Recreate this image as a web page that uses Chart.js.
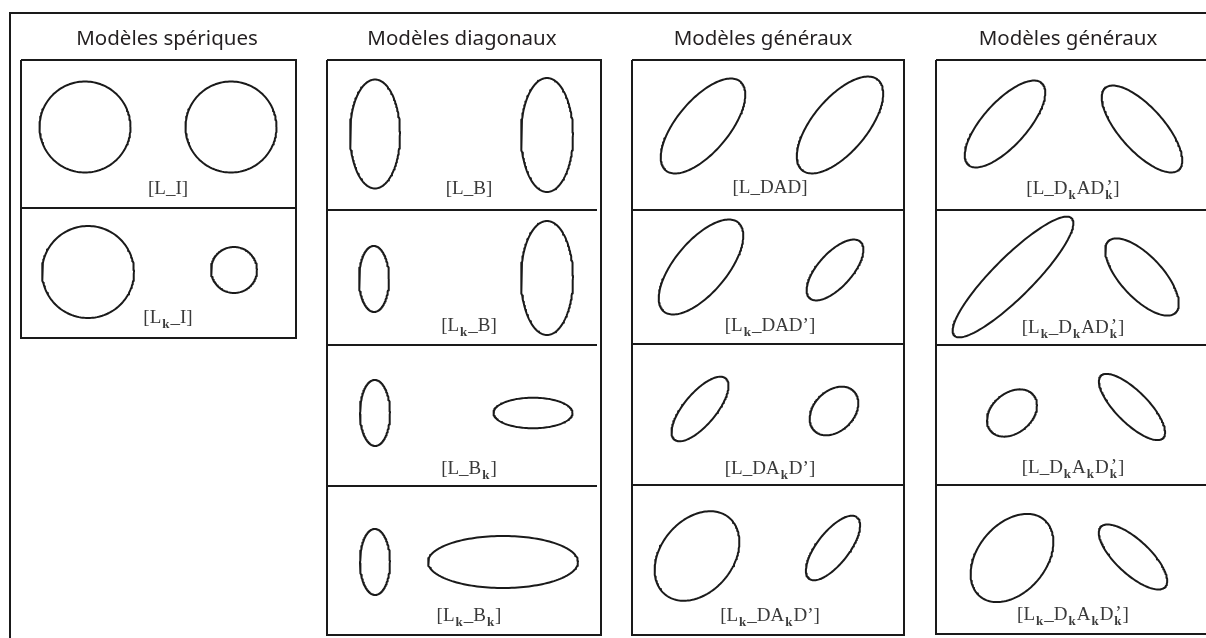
<!DOCTYPE html>
<html>
<head>
<meta charset="utf-8">
<script src="https://cdn.jsdelivr.net/npm/chart.js"></script>
<style>
  html, body { margin: 0; padding: 0; background: #fff; }
  canvas { display: block; }
</style>
</head>
<body>
<canvas id="diagram" width="1206" height="638"></canvas>
<script>
// --- Data: column titles and panel labels ---
const columnTitles = ['Modèles spériques', 'Modèles diagonaux', 'Modèles généraux', 'Modèles généraux'];

// {k} = subscript, ^x = prime stacked above the previous subscript
const sphericalLabels = ['[L_I]', '[L{k}_I]'];
const diagonalLabels = ['[L_B]', '[L{k}_B]', '[L_B{k}]', '[L{k}_B{k}]'];
const generalLabels = ['[L_DAD]', '[L{k}_DAD\u2019]', '[L_DA{k}D\u2019]', '[L{k}_DA{k}D\u2019]'];
const generalLabelsK = ['[L_D{k}AD{k}^\u2019]', '[L{k}_D{k}AD{k}^\u2019]', '[L_D{k}A{k}D{k}^\u2019]', '[L{k}_D{k}A{k}D{k}^\u2019]'];

// ellipses per panel: [cx, cy, semi-axis a, semi-axis b, angle in degrees]
const sphericalShapes = [
    [[85, 127, 45.5, 45.5, 0], [231, 127, 45.5, 45.5, 0]],
    [[88, 272, 46, 46, 0], [234, 270, 23, 23, 0]],
];
const diagonalShapes = [
    [[375, 134, 25, 54.5, 0], [547, 135, 26, 57, 0]],
    [[374, 279, 15, 33, 0], [547, 278, 26, 57, 0]],
    [[375, 413, 15, 33, 0], [533, 413, 39.5, 15.3, 0]],
    [[375, 562, 15, 33, 0], [503, 562, 75, 26, 0]],
];
const generalShapes = [
    [[703, 126, 58, 26, 50], [840, 125, 59, 27, 50]],
    [[701, 267, 58, 26, 50], [835, 270, 38, 17, 48]],
    [[700, 409, 40, 16, 50], [834, 411, 28, 20, 45]],
    [[697, 556, 50, 36, 50], [833, 548, 39, 16, 52]],
];
const generalShapesK = [
    [[1005, 124, 55, 22, 48], [1142, 129, 55, 22, -48]],
    [[1013, 277, 83, 20, 45], [1142, 277, 49, 21, -47]],
    [[1012, 413, 28, 20, 40], [1132, 407, 44, 16, -45]],
    [[1012, 558, 50, 34, 50], [1133, 557, 44, 17, -43]],
];

// --- Layout ---
const W = 1206, H = 638;
const frame = { left: 10, top: 13 };
const titleX = [167, 462, 763, 1068];
const titleBaseline = 45;
const colLeft = [21, 327, 632, 936];
const colRight = [296, 601, 904, 1240];
const colRows = [
    [60, 208, 338],
    [60, 210, 345, 486, 635],
    [60, 210, 344, 485, 635],
    [60, 210, 345, 485, 634],
];
const labelX = [168, 469, 770, 1073];
const labelBaselines = [
    [194, 323],
    [194, 331, 474, 621],
    [193, 331, 474, 621],
    [194, 333, 473, 620],
];

const allLabels = [sphericalLabels, diagonalLabels, generalLabels, generalLabelsK];
const allShapes = [sphericalShapes, diagonalShapes, generalShapes, generalShapesK];

const LINE = '#1a1a1a';

// --- Datasets ---
function lineSet(points) {
    return {
        data: points.map(([x, y]) => ({ x, y })),
        showLine: true,
        borderColor: LINE,
        borderWidth: 2,
        pointRadius: 0,
        tension: 0,
        clip: false,
        borderJoinStyle: 'miter',
    };
}

function ellipseSet([cx, cy, a, b, deg]) {
    const th = deg * Math.PI / 180;
    const pts = [];
    for (let i = 0; i <= 160; i++) {
        const t = i / 160 * Math.PI * 2;
        pts.push([
            cx + a * Math.cos(t) * Math.cos(th) - b * Math.sin(t) * Math.sin(th),
            cy - (a * Math.cos(t) * Math.sin(th) + b * Math.sin(t) * Math.cos(th)),
        ]);
    }
    const ds = lineSet(pts);
    ds.borderJoinStyle = 'round';
    return ds;
}

const datasets = [];
// outer frame
datasets.push(lineSet([[W + 5, frame.top], [frame.left, frame.top], [frame.left, H + 5]]));

colRows.forEach((rows, c) => {
    const l = colLeft[c], r = colRight[c];
    const top = rows[0], bottom = rows[rows.length - 1];
    datasets.push(lineSet([[l, top], [r, top], [r, bottom], [l, bottom], [l, top]]));
    rows.slice(1, -1).forEach(yy => {
        datasets.push(lineSet([[l, yy], [c === 1 ? r - 4 : r, yy]]));
    });
    allShapes[c].forEach(panel => panel.forEach(e => datasets.push(ellipseSet(e))));
});

// --- Text (titles + labels with subscripts) ---
function parseLabel(str) {
    const runs = [];
    const re = /\{(.*?)\}|\^(.)|([^{^]+)/g;
    let m;
    while ((m = re.exec(str)) !== null) {
        if (m[1] !== undefined) runs.push({ text: m[1], kind: 'sub' });
        else if (m[2] !== undefined) runs.push({ text: m[2], kind: 'sup' });
        else runs.push({ text: m[3], kind: 'normal' });
    }
    return runs;
}

const FONT_MAIN = '19px "Liberation Serif"';
const FONT_SUB = 'bold 13px "Liberation Serif"';

function drawLabel(ctx, str, cx, baseline) {
    const runs = parseLabel(str);
    const placed = [];
    let x = 0, lastSubStart = 0, lastSubEnd = 0;
    runs.forEach(run => {
        if (run.kind === 'sub') {
            ctx.font = FONT_SUB;
            const w = ctx.measureText(run.text).width;
            placed.push({ text: run.text, font: FONT_SUB, x: x + 1, dy: 5 });
            lastSubStart = x + 1;
            x += w + 2;
            lastSubEnd = x;
        } else if (run.kind === 'sup') {
            ctx.font = FONT_MAIN;
            const w = ctx.measureText(run.text).width;
            placed.push({ text: run.text, font: FONT_MAIN, x: lastSubStart + 1, dy: -1 });
            x = Math.max(lastSubEnd, lastSubStart + 1 + w);
        } else {
            ctx.font = FONT_MAIN;
            const w = ctx.measureText(run.text).width;
            placed.push({ text: run.text, font: FONT_MAIN, x, dy: 0 });
            x += w;
        }
    });
    const start = cx - x / 2;
    placed.forEach(p => {
        ctx.font = p.font;
        ctx.fillText(p.text, start + p.x, baseline + p.dy);
    });
}

const diagramText = {
    id: 'diagramText',
    afterDatasetsDraw(chart) {
        const { ctx, scales: { x, y } } = chart;
        ctx.save();
        ctx.textBaseline = 'alphabetic';
        ctx.fillStyle = '#231f20';
        ctx.textAlign = 'center';
        ctx.font = '20.5px "Noto Sans"';
        columnTitles.forEach((t, i) => {
            ctx.fillText(t, x.getPixelForValue(titleX[i]), y.getPixelForValue(titleBaseline));
        });
        ctx.textAlign = 'left';
        ctx.fillStyle = '#3a3a3a';
        allLabels.forEach((labels, c) => {
            labels.forEach((lab, r) => {
                drawLabel(ctx, lab, x.getPixelForValue(labelX[c]), y.getPixelForValue(labelBaselines[c][r]));
            });
        });
        ctx.restore();
    }
};

new Chart(document.getElementById('diagram'), {
    type: 'scatter',
    data: { datasets },
    options: {
        responsive: false,
        animation: false,
        layout: { padding: 0 },
        scales: {
            x: { type: 'linear', min: 0, max: W, display: false },
            y: { type: 'linear', min: 0, max: H, reverse: true, display: false },
        },
        plugins: {
            legend: { display: false },
            tooltip: { enabled: false },
        },
    },
    plugins: [diagramText],
});
</script>
</body>
</html>
